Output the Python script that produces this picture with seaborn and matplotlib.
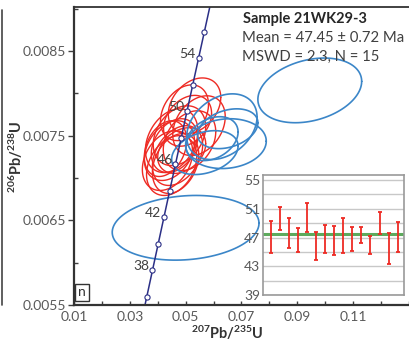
import numpy as np
import pandas as pd
import matplotlib
matplotlib.use("Agg")
import matplotlib.pyplot as plt
from matplotlib.lines import Line2D
from matplotlib.ticker import MultipleLocator
import seaborn as sns

# ---------------- data ----------------
# concordant analyses (red): 207Pb/235U, half axis, 206Pb/238U, half axis, rho
conc_x = [0.0442, 0.0496, 0.0478, 0.0460, 0.0532, 0.0435, 0.0471, 0.0450,
          0.0514, 0.0428, 0.0486, 0.0464, 0.0507, 0.0450, 0.0548]
conc_xe = [0.0090, 0.0086, 0.0094, 0.0083, 0.0094, 0.0090, 0.0090, 0.0094,
           0.0094, 0.0076, 0.0086, 0.0083, 0.0086, 0.0090, 0.0094]
conc_y = [0.007324, 0.007771, 0.007500, 0.007382, 0.007853, 0.007206, 0.007265, 0.007441,
          0.007441, 0.007347, 0.007324, 0.007171, 0.007676, 0.007147, 0.007618]
conc_ye = [0.000353, 0.000329, 0.000353, 0.000318, 0.000329, 0.000353, 0.000353, 0.000376,
           0.000353, 0.000329, 0.000270, 0.000353, 0.000300, 0.000353, 0.000353]
conc_rho = [0.30, 0.30, 0.30, 0.30, 0.30, 0.30, 0.35, 0.30,
            0.30, 0.30, 0.30, 0.30, 0.30, 0.30, 0.30]

# discordant analyses (blue)
disc_x = [0.0500, 0.0945, 0.0630, 0.0645, 0.0569, 0.0594, 0.0651]
disc_xe = [0.0263, 0.0186, 0.0126, 0.0144, 0.0119, 0.0094, 0.0108]
disc_y = [0.006412, 0.008035, 0.007606, 0.007406, 0.007300, 0.007465, 0.007582]
disc_ye = [0.000382, 0.000382, 0.000388, 0.000294, 0.000259, 0.000259, 0.000235]
disc_rho = [0.14, 0.28, 0.30, 0.10, 0.30, 0.30, 0.30]

# concordia age marks (Ma)
age_marks = [36, 38, 40, 42, 44, 46, 48, 50, 52, 54, 56]
age_labels = [38, 42, 46, 50, 54]
LAMBDA_238 = 1.55125e-10
LAMBDA_235 = 9.8485e-10

# weighted mean inset: ages with error bar limits
wm_top = [49.3, 51.2, 49.7, 48.3, 51.8, 47.7, 48.8, 48.6, 49.7, 48.4, 48.5, 47.2, 50.5, 47.6, 49.1]
wm_bot = [44.8, 48.0, 45.6, 45.0, 47.8, 43.9, 44.9, 44.6, 44.9, 45.1, 46.3, 44.7, 47.5, 43.3, 45.0]
wm_mean = 47.45
inset_ticks = [39, 43, 47, 51, 55]

xticks = [0.01, 0.03, 0.05, 0.07, 0.09, 0.11]
yticks = [0.0055, 0.0065, 0.0075, 0.0085]

# ---------------- style ----------------
sns.set_style("white")
plt.rcParams['font.family'] = ['Lato', 'DejaVu Sans']
plt.rcParams['mathtext.fontset'] = 'custom'
plt.rcParams['mathtext.rm'] = 'Lato'
plt.rcParams['mathtext.bf'] = 'Lato:bold'

RED = '#EE2B24'
BLUE = '#3B86C8'
NAVY = '#2B2F86'
GRAY = '#595959'


def ellipse_frame(xs, xes, ys, yes, rhos, kind):
    t = np.linspace(0, 2 * np.pi, 120)
    rows = []
    for i, (cx, a, cy, b, r) in enumerate(zip(xs, xes, ys, yes, rhos)):
        ex = cx + a * np.cos(t)
        ey = cy + b * (r * np.cos(t) + np.sqrt(1 - r * r) * np.sin(t))
        rows.append(pd.DataFrame({'x': ex, 'y': ey, 'id': f'{kind}{i}', 'kind': kind}))
    return pd.concat(rows, ignore_index=True)


fig = plt.figure(figsize=(4.09, 3.48), dpi=100)
ax = fig.add_axes([74 / 409, 1 - 305 / 348, 1.003 - 74 / 409, (305 - 7) / 348])

df_c = ellipse_frame(conc_x, conc_xe, conc_y, conc_ye, conc_rho, 'c')
df_d = ellipse_frame(disc_x, disc_xe, disc_y, disc_ye, disc_rho, 'd')
sns.lineplot(data=df_c, x='x', y='y', units='id', estimator=None, sort=False,
             color=RED, lw=1.0, ax=ax, legend=False)
sns.lineplot(data=df_d, x='x', y='y', units='id', estimator=None, sort=False,
             color=BLUE, lw=1.2, ax=ax, legend=False)

# concordia
tc = np.linspace(33, 60, 300) * 1e6
cx = np.exp(LAMBDA_235 * tc) - 1
cy = np.exp(LAMBDA_238 * tc) - 1
sns.lineplot(x=cx, y=cy, sort=False, color=NAVY, lw=1.1, ax=ax)
am = np.array(age_marks) * 1e6
mx = np.exp(LAMBDA_235 * am) - 1
my = np.exp(LAMBDA_238 * am) - 1
ax.scatter(mx, my, s=14, facecolor='white', edgecolor=NAVY, linewidth=0.8, zorder=5)
for a in age_labels:
    t = a * 1e6
    ax.annotate(str(a), (np.exp(LAMBDA_235 * t) - 1, np.exp(LAMBDA_238 * t) - 1),
                xytext=(-2, 3), textcoords='offset points', ha='right', va='center',
                fontsize=10, color='#404040', zorder=6)

ax.set_xlim(0.01, 0.1305)
ax.set_ylim(0.0055, 0.00902)
ax.set_xticks(xticks)
ax.set_xticklabels([f'{v:.2f}' for v in xticks])
ax.set_yticks(yticks)
ax.set_yticklabels([f'{v:.4f}' for v in yticks])
ax.xaxis.set_minor_locator(MultipleLocator(0.01))
ax.yaxis.set_minor_locator(MultipleLocator(0.0005))
ax.tick_params(axis='x', which='both', direction='in', length=3, width=1, colors='#404040',
               labelcolor=GRAY, labelsize=10, pad=4)
ax.tick_params(axis='y', which='major', direction='out', length=4, width=1, colors='#404040',
               labelcolor=GRAY, labelsize=10, pad=2)
ax.tick_params(axis='y', which='minor', direction='in', length=3, width=1, colors='#404040')
ax.tick_params(left=True, bottom=True, which='both')
for s in ['left', 'bottom']:
    ax.spines[s].set_linewidth(1.6)
    ax.spines[s].set_color('#333333')
ax.spines['top'].set_linewidth(1.3)
ax.spines['top'].set_color('#333333')
ax.spines['right'].set_visible(False)
ax.set_xlabel('')
ax.set_ylabel('')

fig.text(227 / 409, 1 - 333 / 348, r'$\mathbf{^{207}Pb/^{235}U}$', ha='center', va='center',
         fontsize=10.5, color='#333333')
fig.text(16 / 409, 1 - 157 / 348, r'$\mathbf{^{206}Pb/^{238}U}$', ha='center', va='center',
         rotation=90, fontsize=10.5, color='#333333')

ax.text(243 / 409, 1 - 19 / 348, 'Sample 21WK29-3', transform=fig.transFigure,
        fontsize=10.5, fontweight='bold', color='#262626', ha='left', va='center')
ax.text(242 / 409, 1 - 38 / 348, 'Mean = 47.45 ± 0.72 Ma', transform=fig.transFigure,
        fontsize=10.7, color='#404040', ha='left', va='center')
ax.text(242 / 409, 1 - 57 / 348, 'MSWD = 2.3, N = 15', transform=fig.transFigure,
        fontsize=10.7, color='#404040', ha='left', va='center')

ax.text(0.012, 0.022, 'n', transform=ax.transAxes, fontsize=10, color='#333333',
        ha='left', va='bottom',
        bbox=dict(boxstyle='square,pad=0.2', facecolor='white', edgecolor='#333333', lw=1))

# neighbour panel border at left edge
fig.add_artist(Line2D([2 / 409, 2 / 409], [1 - 10 / 348, 1 - 305 / 348], color='#444444', lw=1.2))

# ---------------- inset ----------------
ins = fig.add_axes([263 / 409, 1 - 295 / 348, (404 - 263) / 409, (295 - 175) / 348])
ins.set_facecolor('white')
pos = np.arange(1, len(wm_top) + 1)
for y in range(39, 56, 2):
    ins.axhline(y, color='#C8C8C8', lw=1.0, zorder=1)
ins.axhline(wm_mean, color='#5DAA5D', lw=2.2, zorder=2)
ins.vlines(pos, wm_bot, wm_top, color=RED, lw=1.3, zorder=3)
ins.scatter(np.r_[pos, pos], np.r_[wm_top, wm_bot], marker='_', s=10, color=RED,
            linewidth=1.3, zorder=3)
ins.set_xlim(0.15, 15.7)
ins.set_ylim(39, 55.7)
ins.set_xticks([])
ins.set_yticks(inset_ticks)
ins.tick_params(axis='y', length=0, labelsize=10, labelcolor=GRAY, pad=2)
for s in ins.spines.values():
    s.set_color('#999999')
    s.set_linewidth(1.2)

fig.savefig('out.png', dpi=100)
